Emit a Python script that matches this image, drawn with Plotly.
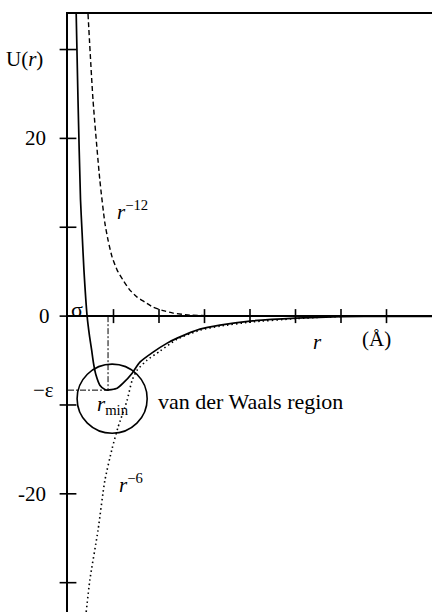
import plotly.graph_objects as go

# Lennard-Jones style potential U(r): total curve and its two components
r_lj = [0.18, 0.22, 0.275, 0.31, 0.35, 0.42, 0.47, 0.52, 0.56, 0.615, 0.70, 0.81,
        0.88, 0.95, 1.08, 1.21, 1.41, 1.58, 1.87, 2.18, 2.40, 2.90, 3.34,
        4.00, 5.01, 6.00, 7.01, 8.00]
u_lj = [34.0, 24.3, 13.1, 9.35, 5.2, 0.0, -2.14, -3.83, -5.29, -6.64, -7.77, -8.25,
        -8.33, -8.28, -8.11, -7.55, -6.42, -5.18, -4.05, -3.04, -2.48, -1.46, -1.01,
        -0.56, -0.23, -0.06, -0.03, -0.02]

# repulsive r^-12 term
r_rep = [0.44, 0.55, 0.70, 0.81, 0.88, 0.97, 1.08, 1.21, 1.36, 1.52, 1.69, 1.87,
         2.09, 2.31, 2.68, 3.12, 4.00, 5.10, 6.20]
u_rep = [34.0, 24.3, 15.3, 10.5, 8.56, 6.64, 5.18, 4.05, 2.93, 2.14, 1.58, 1.01,
         0.62, 0.34, 0.11, 0.05, 0.03, 0.02, 0.01]

# attractive r^-6 term
r_att = [0.40, 0.48, 0.66, 0.81, 0.97, 1.10, 1.30, 1.41, 1.52, 1.74, 2.02, 2.40,
         2.90, 3.34, 4.00, 5.01, 6.00]
u_att = [-33.3, -29.7, -24.1, -18.5, -14.9, -12.5, -9.46, -7.21, -6.08, -4.95, -3.94, -2.59,
         -1.58, -1.13, -0.68, -0.28, -0.03]

# axis ticks and labels
y_ticks = [30, 20, 10, 0, -10, -20, -30]
x_ticks = [1, 2, 3, 4, 5, 6, 7]
y_label_vals = [20, 0, -20]
y_label_text = ["20", "0", "-20"]

# well depth and position taken from the total curve
i_min = u_lj.index(min(u_lj))
R_MIN = r_lj[i_min]
EPS = -u_lj[i_min]

FONT = "Liberation Serif"
BLACK = "black"

fig = go.Figure()

fig.add_trace(go.Scatter(x=r_lj, y=u_lj, mode="lines",
                         line=dict(color=BLACK, width=1.7, shape="spline", smoothing=0.6),
                         hoverinfo="skip"))
fig.add_trace(go.Scatter(x=r_rep, y=u_rep, mode="lines",
                         line=dict(color=BLACK, width=1.4, dash="5px,3px", shape="spline", smoothing=0.6),
                         hoverinfo="skip"))
fig.add_trace(go.Scatter(x=r_att, y=u_att, mode="lines",
                         line=dict(color=BLACK, width=1.6, dash="1.5px,3px", shape="spline", smoothing=0.6),
                         hoverinfo="skip"))

# guide lines marking r_min and -epsilon
fig.add_trace(go.Scatter(x=[0, R_MIN, R_MIN], y=[-EPS, -EPS, 0], mode="lines",
                         line=dict(color=BLACK, width=1, dash="6px,2px,2px,2px"),
                         hoverinfo="skip"))

# tick marks crossing the axes
fig.add_trace(go.Scatter(x=[0] * len(y_ticks), y=y_ticks, mode="markers", cliponaxis=False,
                         marker=dict(symbol="line-ew", size=12, line=dict(width=1.6, color=BLACK)),
                         hoverinfo="skip"))
fig.add_trace(go.Scatter(x=x_ticks, y=[0] * len(x_ticks), mode="markers", cliponaxis=False,
                         marker=dict(symbol="line-ns", size=10, line=dict(width=1.6, color=BLACK)),
                         hoverinfo="skip"))

# circle around the van der Waals well
fig.add_shape(type="circle", xref="x", yref="y",
              x0=0.20, x1=1.74, y0=-13.18, y1=-5.40,
              line=dict(color=BLACK, width=1.6))

annotations = []
# labels to the left of the vertical axis
left_labels = [("U(<i>r</i>)", 28.9, -23)] + \
              [(t, v, -20 if len(t) > 1 else -16) for t, v in zip(y_label_text, y_label_vals)] + \
              [("\u2212\u03b5", -EPS, -12)]
for text, yv, shift in left_labels:
    annotations.append(dict(text=text, xref="paper", yref="y", x=0, y=yv,
                            xanchor="right", yanchor="middle", xshift=shift,
                            showarrow=False, font=dict(family=FONT, size=21, color=BLACK)))

inner = [
    ("\u03c3", 0.20, 0.75, "center", 22),
    ("<i>r</i><sup>\u221212</sup>", 1.03, 11.9, "left", 21),
    ("<i>r</i><sup>\u22126</sup>", 1.08, -18.8, "left", 21),
    ("<i>r</i><sub>min</sub>", 0.59, -10.0, "left", 21),
    ("van der Waals region", 1.93, -9.6, "left", 22),
    ("<i>r</i>", 5.48, -2.9, "center", 21),
    ("(\u00c5)", 6.78, -2.6, "center", 21),
]
for text, xv, yv, xa, size in inner:
    annotations.append(dict(text=text, xref="x", yref="y", x=xv, y=yv,
                            xanchor=xa, yanchor="middle", showarrow=False,
                            font=dict(family=FONT, size=size, color=BLACK)))

fig.update_layout(
    width=432, height=612,
    margin=dict(l=68, r=0, t=14, b=0, pad=0),
    paper_bgcolor="white", plot_bgcolor="white",
    showlegend=False,
    annotations=annotations,
    xaxis=dict(range=[0, 8], side="top", showline=True, linecolor=BLACK, linewidth=2,
               showgrid=False, zeroline=False, showticklabels=False, ticks=""),
    yaxis=dict(range=[-33.3, 34.0], showline=True, linecolor=BLACK, linewidth=2,
               showgrid=False, zeroline=True, zerolinecolor=BLACK, zerolinewidth=2,
               showticklabels=False, ticks=""),
)

fig.write_html("out.html")
